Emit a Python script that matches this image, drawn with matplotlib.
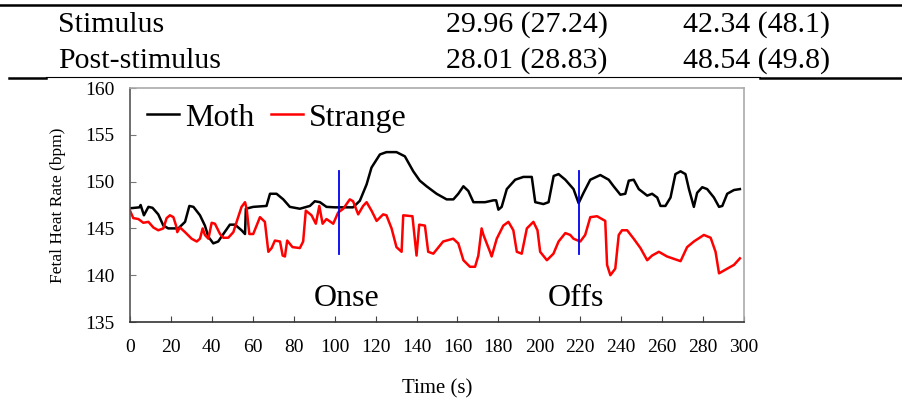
import matplotlib.pyplot as plt
from matplotlib.lines import Line2D

plt.rcParams['font.family'] = ['Liberation Serif', 'DejaVu Serif']

# table rows above the chart
row_labels = ['Stimulus', 'Post-stimulus']
col_moth = ['29.96 (27.24)', '28.01 (28.83)']
col_strange = ['42.34 (48.1)', '48.54 (49.8)']

# fetal heart rate traces (time in s, bpm)
moth_t = [0, 4.6, 5.2, 6.8, 9, 11, 13.8, 16.3, 18.7, 23.6,
          26.9, 29, 31, 34.2, 36.6, 38.3, 40.7, 43.1, 45.6, 48.8,
          51.3, 54.5, 56.2, 56.6, 60.2, 66.7, 68.4, 71.6, 74.9, 78.1,
          83, 87.9, 90.3, 92.8, 96, 100.1, 109, 112.3, 115.6, 118,
          122.1, 125.3, 130.2, 134.3,
          138.4, 141.6, 144.9, 149.8, 154.7, 158, 160.4, 162.9, 165.3, 167.8,
          173.5, 177.6, 178.9, 180, 181.6, 184.1, 188.2, 192.2, 196.3, 198,
          202, 204.5, 207, 209.4, 212.7, 216.7, 219.2, 221.6, 224.9, 229.8,
          233.9, 236.3, 239.6, 242, 243.7, 246.1, 248.6, 252.7, 255.1, 257.6,
          259.2, 261.6, 264.1, 266.5, 269, 271.4, 273.1, 275.5, 277.1, 279.6,
          282, 285.3, 287.8, 289.4, 291.8, 295.1, 298]
moth_v = [147.15, 147.25, 147.5, 146.4, 147.3, 147.2, 146.5, 145.3, 145.0, 145.0,
          145.7, 147.4, 147.3, 146.4, 145.3, 144.1, 143.4, 143.6, 144.4, 145.4,
          145.4, 144.8, 144.4, 147.1, 147.3, 147.4, 148.7, 148.7, 148.1, 147.3,
          147.1, 147.4, 147.9, 147.8, 147.3, 147.25, 147.25, 147.95, 149.7, 151.5,
          152.9, 153.15, 153.15, 152.7,
          151.1, 150.1, 149.5, 148.7, 148.1, 148.1, 148.7, 149.5, 149.0, 147.8,
          147.8, 148.0, 148.0, 147.0, 147.3, 149.2, 150.2, 150.5, 150.5, 147.8,
          147.6, 147.8, 150.6, 150.8, 150.2, 149.2, 147.7, 148.8, 150.2, 150.7,
          150.2, 149.5, 148.6, 148.7, 150.1, 150.2, 149.2, 148.5, 148.7, 148.3,
          147.4, 147.4, 148.3, 150.8, 151.1, 150.8, 149.2, 147.3, 148.8, 149.4,
          149.2, 148.3, 147.3, 147.4, 148.7, 149.1, 149.2]

strange_t = [0, 1.6, 4.1, 6.5, 9, 11.4, 13.8, 16.3, 17.9, 19.5,
             21.2, 22.5, 23.1, 24.4, 26.9, 30.1, 32.6, 34.2, 35.5, 36.6,
             38.3, 39.9, 41.5, 44, 45.6, 48, 50.5, 52.1, 54.5, 56.2,
             57, 58.3, 60.2, 63.5, 65.9, 67.6, 69.2, 70.8, 73.3, 74.6,
             75.7, 76.8, 79.4, 83, 84.6, 85.9, 88.7, 90.8, 92.5, 94.1,
             96, 99.3, 101.7, 104.2, 107.4, 109, 111.5, 113.9, 115.6, 118,
             120.5, 123.7, 125.3, 127.8, 130.2, 132.7,
             133.5, 138, 140, 141.3, 144.1, 145.7, 148.2, 153, 157.9, 160.4,
             162.9, 166.1, 168.6, 170.2, 171.8, 172.7, 175.9, 176.7, 179.2, 182.4,
             184.9, 187.3, 189, 191.4, 193.9, 197.1, 199.1, 200.4, 203.7, 206.9,
             209.4, 212.7, 215.1, 216.7, 220, 222.4, 224.9, 228.2, 232.2, 233.1,
             234.7, 237.1, 238.8, 240.4, 242.9, 246.1, 249.4, 252.7, 255.1, 258.4,
             262.4, 269, 272.2, 275.5, 280.4, 283.7, 286.1, 287.8, 291, 295.1,
             298]
strange_v = [146.9, 146.1, 146.0, 145.6, 145.7, 145.1, 144.8, 145.0, 146.1, 146.4,
             146.2, 145.3, 144.6, 145.1, 144.6, 143.9, 143.6, 143.9, 145.0, 144.3,
             143.9, 145.6, 145.5, 144.4, 144.0, 144.0, 144.6, 145.7, 147.3, 147.8,
             147.1, 144.4, 144.4, 146.2, 145.7, 142.5, 142.9, 143.7, 143.6, 142.1,
             142.0, 143.7, 143.0, 142.9, 143.6, 146.9, 146.4, 145.5, 147.4, 145.5,
             146.0, 145.5, 146.7, 147.1, 148.1, 147.9, 146.5, 147.4, 147.8, 146.9,
             145.8, 146.5, 146.4, 145.0, 143.0, 142.5,
             146.4, 146.3, 142.1, 145.4, 145.3, 142.5, 142.3, 143.6, 143.9, 143.4,
             141.6, 140.9, 140.9, 142.1, 145.0, 144.3, 142.5, 142.0, 143.9, 145.3,
             145.7, 144.8, 142.5, 142.3, 145.0, 145.7, 144.8, 142.5, 141.6, 142.3,
             143.6, 144.5, 144.3, 143.9, 143.6, 144.3, 146.2, 146.3, 145.8, 141.1,
             140.0, 140.7, 144.3, 144.8, 144.8, 143.9, 142.9, 141.6, 142.1, 142.5,
             142.0, 141.5, 143.0, 143.6, 144.3, 144.0, 142.5, 140.2, 140.6, 141.1,
             141.8]

onset_t = 102
offset_t = 219.5
marker_lo, marker_hi = 142.3, 151.1


def fx(x):
    return x / 902


def fy(y):
    return 1 - y / 407


fig = plt.figure(figsize=(9.02, 4.07), dpi=100)

# table part
fig.add_artist(Line2D([fx(0), fx(902)], [fy(5), fy(5)], color='black', lw=1.8))
fig.add_artist(Line2D([fx(46), fx(760)], [fy(76.5), fy(76.5)], color='black', lw=0.8))
fig.add_artist(Line2D([fx(9), fx(46)], [fy(77.5), fy(77.5)], color='black', lw=1.8))
fig.add_artist(Line2D([fx(760), fx(902)], [fy(77.5), fy(77.5)], color='black', lw=1.8))
for i, lab in enumerate(row_labels):
    yb = fy(32 + i * 36)
    fig.text(fx(58), yb, lab, fontsize=21.5, va='baseline')
    fig.text(fx(446), yb, col_moth[i], fontsize=21.5, va='baseline')
    fig.text(fx(683), yb, col_strange[i], fontsize=21.5, va='baseline')

# chart
ax = fig.add_axes([fx(130), fy(322), fx(744) - fx(130), fy(88) - fy(322)])
ax.plot(moth_t, moth_v, color='black', lw=1.8, label='Moth')
ax.plot(strange_t, strange_v, color='#ff0000', lw=1.8, label='Strange')
ax.plot([onset_t, onset_t], [marker_lo, marker_hi], color='#0000ee', lw=1.3)
ax.plot([offset_t, offset_t], [marker_lo, marker_hi], color='#0000ee', lw=1.3)
ax.text(90, 136.7, 'Onse', fontsize=23, va='baseline')
ax.text(204, 136.7, 'Offs', fontsize=23, va='baseline')

ax.set_xlim(0, 300)
ax.set_ylim(135, 160)
ax.set_xticks(range(0, 301, 20))
ax.set_yticks(range(135, 161, 5))
ax.tick_params(axis='x', direction='in', length=4, pad=12, labelsize=14, color='#444444')
ax.tick_params(axis='y', direction='in', length=4, pad=11, labelsize=14, color='#777777')
ax.spines['left'].set_color('#555555')
ax.spines['bottom'].set_color('#333333')
ax.spines['top'].set_color('#aaaaaa')
ax.spines['right'].set_color('#aaaaaa')
for s in ax.spines.values():
    s.set_linewidth(1.2)
ax.set_xlabel('Time (s)', fontsize=15, labelpad=17)
ax.set_ylabel('Fetal Heat Rate (bpm)', fontsize=12.5, labelpad=14)
ax.legend(loc='upper left', bbox_to_anchor=(0.028, 0.935), ncol=2, frameon=False,
          fontsize=23, handlelength=1.0, handletextpad=0.2, columnspacing=0.5,
          borderpad=0, borderaxespad=0)

fig.savefig('out.png', dpi=100)
